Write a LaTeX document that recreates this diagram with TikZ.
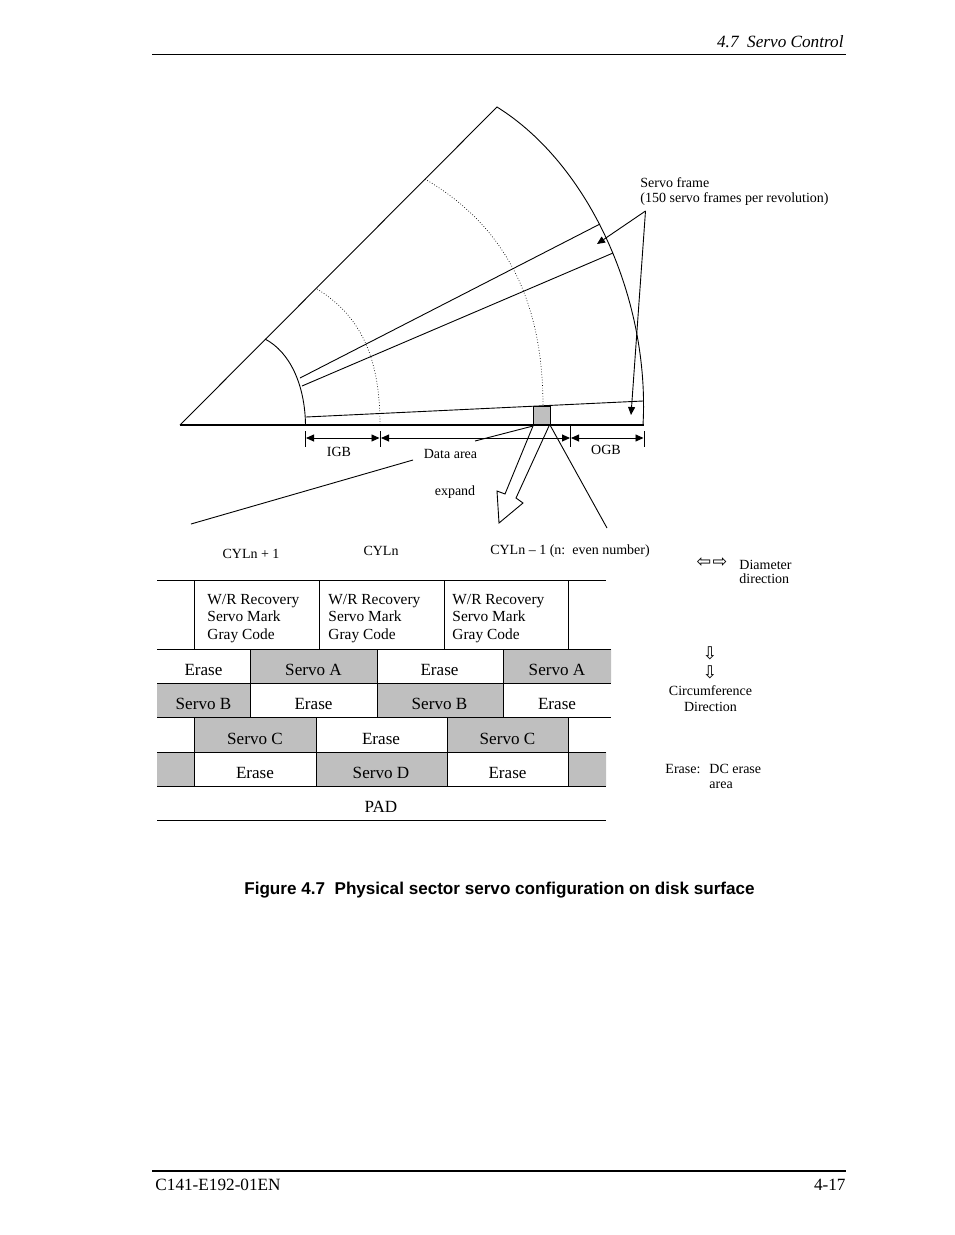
\documentclass[tikz,border=0pt]{standalone}
\usepackage{fontspec}
\setmainfont{Liberation Serif}
\setsansfont{Liberation Sans}
\newfontfamily\symfont{DejaVu Sans}
\usetikzlibrary{arrows.meta}
\definecolor{servogray}{gray}{.75}
\tikzset{
  lab/.style={inner sep=0pt,font=\fontsize{14}{15}\selectfont},
  cell/.style={inner sep=0pt,font=\fontsize{17.1}{18}\selectfont},
  rec/.style={inner sep=0pt,anchor=north west,align=left,font=\fontsize{15.4}{17.6}\selectfont},
  page/.style={inner sep=0pt,font=\fontsize{17.2}{18}\selectfont},
  glyph/.style={inner sep=0pt,font=\symfont\fontsize{17.5}{19}\selectfont},
}
\begin{document}
\begin{tikzpicture}[x=1pt,y=-1pt,>={Triangle[length=8pt,width=7pt]},line width=.9pt]
\useasboundingbox (0,0) rectangle (954,1235);
% page head and foot
\draw (152,54.5)--(846,54.5);
\node[page,anchor=east] (head) at (844,41.5) {\itshape 4.7\ \ Servo Control};
\draw[line width=1.6pt] (152,1171)--(846,1171);
\node[page,anchor=west] (code) at (155,1184.5) {C141-E192-01EN};
\node[page,anchor=east] (num) at (846,1184.5) {4-17};
% sector
\coordinate (apex) at (180,425);
\coordinate (top) at (497,107);
\coordinate (rim) at (643,425);
\fill[servogray] (533,406) rectangle (550,425);
\draw (533,406) rectangle (550,425);
\draw (apex)--(top) .. controls (590,165) and (650,300) .. (rim);
\draw (265,339) .. controls (290,352) and (305,385) .. (305.5,425);
\draw[dotted,line width=.7pt] (425,179) .. controls (512,230) and (543,310) .. (543,406);
\draw[dotted,line width=.7pt] (317,289) .. controls (365,318) and (380,365) .. (380,425);
\draw (300,378)--(600,224);
\draw (302,386)--(613,253);
\draw (306,417)--(643,401);
\draw[line width=1.7pt] (apex)--(644,425);
% servo frame
\node[lab,anchor=west] (frame) at (640,183) {Servo frame};
\node[lab,anchor=west] (perrev) at (640,199) {(150 servo frames per revolution)};
\coordinate (fork) at (645.5,211);
\draw[->] (fork)--(597,244);
\draw[->] (fork)--(631,415);
% gaps
\draw (305.5,431)--(305.5,447);
\draw (380,431)--(380,447);
\draw (570.5,425)--(570.5,447);
\draw (644,431)--(644,447);
\draw[<->] (306,438)--(379.5,438);
\draw[<->] (381,438)--(570,438);
\draw[<->] (571,438)--(643.5,438);
\node[lab] (igb) at (339,451.5) {IGB};
\node[lab] (ogb) at (606,450) {OGB};
\node[lab] (data) at (450.5,454) {Data area};
\node[lab] (expand) at (455,492.5) {expand};
\draw (475,441)--(533,426);
\draw (191,524)--(413,460);
\draw (550,425)--(607,528);
\draw (533,426)--(505,494)--(497,491)--(499,523)--(523,503)--(516,498)--(549,426);
% cylinders
\node[lab] (cyla) at (251,554) {CYLn + 1};
\node[lab] (cylb) at (381,551) {CYLn};
\node[lab] (cylc) at (570,551) {CYLn -- 1 (n:\ \ even number)};
% table
\fill[servogray] (250,649)rectangle(377,683) (503,649)rectangle(611,683);
\fill[servogray] (157,683)rectangle(250,717) (377,683)rectangle(503,717);
\fill[servogray] (194,717)rectangle(316,752) (447,717)rectangle(568,752);
\fill[servogray] (157,752)rectangle(194,786) (316,752)rectangle(447,786) (568,752)rectangle(606,786);
\foreach \ya/\xb in {580/606,649/611,683/611,717/611,752/606,786/606,820/606}
  \draw (157,\ya)--(\xb,\ya);
\foreach \xa in {194,319,444,568} \draw (\xa,580)--(\xa,649);
\foreach \xa in {250,377,503} \draw (\xa,649)--(\xa,717);
\foreach \xa in {194,316,447,568} \draw (\xa,717)--(\xa,786);
\foreach \xa/\ya/\name in {207/593.5/reca,328/593.5/recb,452/593.5/recc}
  \node[rec] (\name) at (\xa,\ya) {W/R Recovery\\Servo Mark\\Gray Code};
\foreach \xa/\ya/\txt/\name in {
  203.5/670/Erase/ea,313.5/670/Servo A/sa,439.5/670/Erase/eb,557/670/Servo A/sb,
  203.5/704/Servo B/sc,313.5/704/Erase/ec,439.5/704/Servo B/sd,557/704/Erase/ed,
  255/739/Servo C/se,381/739/Erase/ee,507.5/739/Servo C/sf,
  255/773/Erase/ef,381/773/Servo D/sg,507.5/773/Erase/eg,
  381/807/PAD/pad}
  \node[cell] (\name) at (\xa,\ya) {\txt};
% directions
\node[glyph] (dl) at (704,563) {⇦};
\node[glyph] (dr) at (720,563) {⇨};
\node[lab,anchor=west] (dia) at (739,565) {Diameter};
\node[lab,anchor=west] (dir) at (739,579) {direction};
\node[glyph] (ca) at (710,653) {⇩};
\node[glyph] (cb) at (710,672) {⇩};
\node[lab] (circ) at (710.5,691) {Circumference};
\node[lab] (cdir) at (710.5,707) {Direction};
\node[lab,anchor=base west] (er) at (665,773.5) {Erase:};
\node[lab,anchor=base west] (dc) at (709,773.5) {DC erase};
\node[lab,anchor=base west] (ar) at (709,788) {area};
% caption
\node[inner sep=0pt,font=\sffamily\bfseries\fontsize{17.1}{18}\selectfont] (cap) at (499.5,890) {Figure 4.7\ \ Physical sector servo configuration on disk surface};
\end{tikzpicture}
\end{document}
